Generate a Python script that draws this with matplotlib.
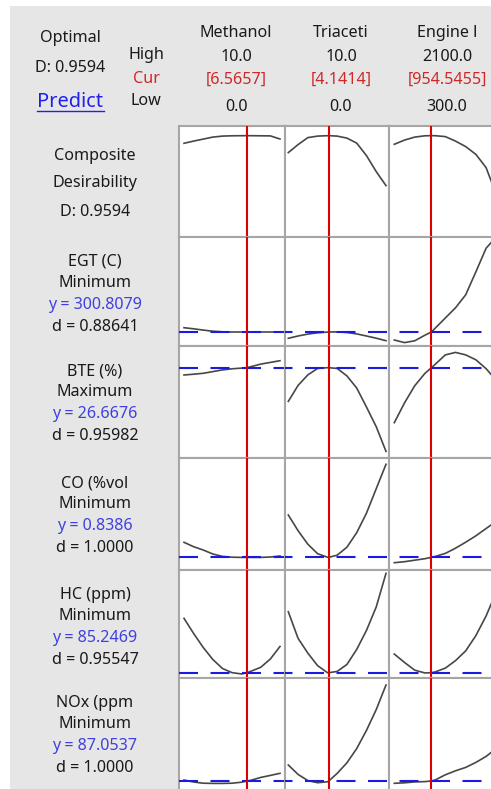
import numpy as np
import matplotlib
matplotlib.use('Agg')
import matplotlib.pyplot as plt
from matplotlib.lines import Line2D
from matplotlib.patches import Rectangle

plt.rcParams['font.family'] = ['Noto Sans', 'DejaVu Sans']

# ---------------- data ----------------
factor_names = ["Methanol", "Triaceti", "Engine l"]
factor_high = [10.0, 10.0, 2100.0]
factor_low = [0.0, 0.0, 300.0]
factor_cur = [6.5657, 4.1414, 954.5455]

composite_D = 0.9594
response_names = ["EGT (C)", "BTE (%)", "CO (%vol", "HC (ppm)", "NOx (ppm"]
response_goals = ["Minimum", "Maximum", "Minimum", "Minimum", "Minimum"]
response_y = [300.8079, 26.6676, 0.8386, 85.2469, 87.0537]
response_d = [0.88641, 0.95982, 1.0000, 0.95547, 1.0000]

methanol_x = [0, 1, 2, 3, 4, 5, 6, 6.5657, 7, 8, 9, 10]
triaceti_x = [0, 1, 2, 3, 4, 4.1414, 5, 6, 7, 8, 9, 10]
engine_x = [300, 480, 660, 840, 954.5455, 1020, 1200, 1380, 1560, 1740, 1920, 2100]

comp_methanol = [0.883, 0.905, 0.925, 0.945, 0.955, 0.958, 0.959, 0.9594, 0.959, 0.958, 0.957, 0.926]
comp_triaceti = [0.79, 0.87, 0.94, 0.955, 0.959, 0.9594, 0.955, 0.935, 0.885, 0.76, 0.60, 0.46]
comp_engine = [0.873, 0.915, 0.945, 0.958, 0.9594, 0.959, 0.950, 0.905, 0.85, 0.772, 0.64, 0.37]

egt_methanol = [305.1, 304.0, 302.7, 301.6, 301.0, 300.8, 300.8, 300.8079, 300.8, 300.8, 300.8, 300.7]
egt_triaceti = [294.5, 296.8, 298.7, 300.0, 300.7, 300.8079, 300.9, 300.3, 298.9, 296.8, 294.6, 292.1]
egt_engine = [292.8, 290.2, 292.0, 297.6, 300.8079, 304.5, 314.8, 325.0, 338.0, 361.0, 384.6, 396.0]

bte_methanol = [25.94, 26.02, 26.11, 26.28, 26.45, 26.56, 26.63, 26.6676, 26.78, 27.03, 27.2, 27.37]
bte_triaceti = [23.3, 24.9, 25.95, 26.6, 26.67, 26.6676, 26.6, 25.85, 24.64, 22.74, 20.77, 18.3]
bte_engine = [21.17, 23.15, 24.86, 26.1, 26.6676, 27.0, 27.95, 28.2, 27.95, 27.46, 26.57, 25.4]

co_methanol = [0.989, 0.945, 0.912, 0.872, 0.848, 0.840, 0.838, 0.8386, 0.838, 0.838, 0.842, 0.852]
co_triaceti = [1.262, 1.105, 0.97, 0.875, 0.84, 0.8386, 0.86, 0.94, 1.085, 1.28, 1.525, 1.769]
co_engine = [0.785, 0.795, 0.81, 0.825, 0.8386, 0.847, 0.878, 0.93, 0.99, 1.054, 1.127, 1.2]

hc_methanol = [139.6, 124.5, 110.5, 98.5, 89.5, 85.3, 84.0, 85.2469, 86.8, 90.7, 99.0, 111.5]
hc_triaceti = [146.2, 119.6, 104.8, 92.3, 85.3, 85.2469, 86.5, 93.5, 108.5, 127.5, 151.0, 184.6]
hc_engine = [103.9, 95.5, 87.8, 85.0, 85.2469, 86.0, 89.8, 97.3, 107.1, 122.4, 142.0, 166.0]

nox_methanol = [92.0, 82.0, 76.0, 75.0, 75.0, 76.0, 81.0, 87.0537, 91.0, 105.0, 115.0, 125.5]
nox_triaceti = [167.0, 120.0, 89.0, 78.5, 83.0, 87.0537, 125.0, 178.0, 249.0, 340.0, 444.0, 567.0]
nox_engine = [75.5, 78.0, 82.5, 84.0, 87.0537, 92.0, 118.0, 138.0, 155.0, 180.0, 210.0, 250.0]

factor_x = [methanol_x, triaceti_x, engine_x]
curves = [
    [comp_methanol, comp_triaceti, comp_engine],
    [egt_methanol, egt_triaceti, egt_engine],
    [bte_methanol, bte_triaceti, bte_engine],
    [co_methanol, co_triaceti, co_engine],
    [hc_methanol, hc_triaceti, hc_engine],
    [nox_methanol, nox_triaceti, nox_engine],
]

# ---------------- layout (pixels) ----------------
W, H = 491, 789
col_edges = [179, 285, 389, 495]
row_edges = [126, 237, 346, 458, 570, 678, 790]
col_data_px = [(184, 280), (288.3, 386), (394.3, 496.3)]
row_ylims = [(-0.054, 1.056), (286.8, 395.8), (17.64, 28.84), (0.712, 1.832),
             (79.95, 187.95), (42.05, 602.05)]

BG = '#e6e6e6'
GRID = '#a6a6a6'
CURVE = '#474747'
RED = '#dd0000'
BLUE = '#1a1ae0'
TXT = '#1a1a1a'
TXT_RED = '#d02828'
TXT_BLUE = '#4040e0'
FS = 11.6

fig = plt.figure(figsize=(W / 100, H / 100), dpi=100)
fig.patch.set_facecolor('white')
fig.add_artist(Rectangle((10 / W, 0), (W - 10) / W, (H - 6) / H,
                         transform=fig.transFigure, facecolor=BG, edgecolor='none', zorder=0))


def ftxt(x, y, s, **kw):
    kw.setdefault('color', TXT)
    kw.setdefault('fontsize', FS)
    fig.text(x / W, 1 - y / H, s, ha='center', va='center', **kw)


lw = 1.5
dash_on, dash_off = 19 * 0.72 / lw, 12.5 * 0.72 / lw

for r in range(6):
    y0, y1 = row_edges[r], row_edges[r + 1]
    for c in range(3):
        x0, x1 = col_edges[c], col_edges[c + 1]
        ax = fig.add_axes([x0 / W, 1 - y1 / H, (x1 - x0) / W, (y1 - y0) / H])
        ax.set_facecolor('white')
        lo, hi = factor_low[c], factor_high[c]
        a, b = col_data_px[c]
        sc = (hi - lo) / (b - a)
        ax.set_xlim(lo - (a - x0) * sc, hi + (x1 - b) * sc)
        ax.set_ylim(*row_ylims[r])
        ax.set_xticks([])
        ax.set_yticks([])
        for sp in ax.spines.values():
            sp.set_color(GRID)
            sp.set_linewidth(1.5)
        ax.plot(factor_x[c], curves[r][c], color=CURVE, lw=1.2, zorder=2)
        if r > 0:
            offset = (x0 - col_edges[0]) * 0.72 / lw
            ax.axhline(response_y[r - 1], color=BLUE, lw=lw,
                       linestyle=(offset, (dash_on, dash_off)), zorder=3)
        ax.axvline(factor_cur[c], color=RED, lw=1.5, zorder=4)

# ---------------- header texts ----------------
ftxt(70, 38, "Optimal")
ftxt(70, 68, f"D: {composite_D:.4f}")
ftxt(70, 102, "Predict", color='#2020ee', fontsize=14.4)
fig.add_artist(Line2D([37 / W, 104 / W], [1 - 111 / H, 1 - 111 / H],
                      transform=fig.transFigure, color='#2020ee', lw=1.0))
ftxt(146, 55, "High")
ftxt(146, 79, "Cur", color=TXT_RED)
ftxt(146, 101, "Low")

col_text_x = [236, 341, 447]
for c in range(3):
    ftxt(col_text_x[c], 33, factor_names[c])
    ftxt(col_text_x[c], 57, f"{factor_high[c]:.1f}")
    ftxt(col_text_x[c], 80, f"[{factor_cur[c]:.4f}]", color=TXT_RED)
    ftxt(col_text_x[c], 107, f"{factor_low[c]:.1f}")

# ---------------- row labels ----------------
ftxt(95, 156, "Composite")
ftxt(95, 183, "Desirability")
ftxt(95, 212, f"D: {composite_D:.4f}")

offs = [25, 46, 68, 90]
for i in range(5):
    top = row_edges[i + 1]
    ftxt(95, top + offs[0], response_names[i])
    ftxt(95, top + offs[1], response_goals[i])
    ftxt(95, top + offs[2], f"y = {response_y[i]:.4f}", color=TXT_BLUE)
    ftxt(95, top + offs[3], f"d = {response_d[i]:#.5g}")

fig.savefig("out.png", dpi=100, facecolor=fig.get_facecolor())
